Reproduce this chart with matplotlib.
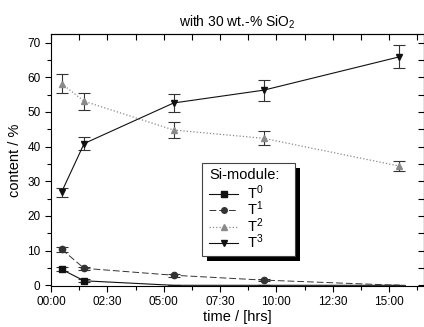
import numpy as np
import matplotlib.pyplot as plt
from matplotlib.ticker import MultipleLocator, FuncFormatter, NullFormatter
from matplotlib.patches import Rectangle
from matplotlib.lines import Line2D

plt.rcParams['font.family'] = ['Liberation Sans', 'DejaVu Sans']
plt.rcParams['mathtext.fontset'] = 'custom'
plt.rcParams['mathtext.rm'] = 'Liberation Sans'
plt.rcParams['mathtext.it'] = 'Liberation Sans'
plt.rcParams['mathtext.default'] = 'regular'

# time in hours
t = [0.47, 1.47, 5.44, 9.44, 15.45]

t0 = [4.6, 1.3, 0.0, 0.0, 0.0]
t0_err = [0.6, 0.4, 0.0, 0.0, 0.0]
t1 = [10.4, 4.9, 2.9, 1.5, 0.0]
t1_err = [0.7, 0.5, 0.4, 0.3, 0.0]
t2 = [58.2, 53.1, 44.8, 42.4, 34.4]
t2_err = [2.7, 2.5, 2.2, 2.0, 1.5]
t3 = [26.9, 40.9, 52.6, 56.3, 65.9]
t3_err = [1.3, 2.0, 2.7, 3.0, 3.3]

labels = ['T$^0$', 'T$^1$', 'T$^2$', 'T$^3$']
series = [t0, t1, t2, t3]
errors = [t0_err, t1_err, t2_err, t3_err]
markers = ['s', 'o', '^', 'v']
colors = ['#111111', '#333333', '#8a8a8a', '#111111']
styles = ['-', (0, (7, 3)), ':', '-']
widths = [0.8, 0.7, 0.9, 0.8]

W, H = 424, 327
fig = plt.figure(figsize=(W / 100, H / 100), dpi=100)
ax = fig.add_axes([51 / W, 1 - 286 / H, 373 / W, 252 / H])

handles = []
for y, e, m, c, ls, lw, lab in zip(series, errors, markers, colors, styles, widths, labels):
    # points sitting at zero are drawn without a marker (line only)
    shown = [i for i, v in enumerate(y) if v > 0]
    ax.errorbar(t, y, yerr=e, color=c, marker=m, linestyle=ls, linewidth=lw,
                ecolor='#333333', capsize=4, elinewidth=0.8, capthick=0.8,
                markersize=4.5, markevery=shown, zorder=3)
    handles.append(Line2D([], [], color=c, marker=m, linestyle=ls, linewidth=lw,
                          markersize=4, label=lab))

ax.set_xlim(0, 16.55)
ax.set_ylim(-0.2, 72.5)

ax.xaxis.set_major_locator(MultipleLocator(2.5))
ax.xaxis.set_minor_locator(MultipleLocator(1.25))
ax.yaxis.set_major_locator(MultipleLocator(10))
ax.yaxis.set_minor_locator(MultipleLocator(5))

def hhmm(v, pos):
    h = int(v)
    m = int(round((v - h) * 60))
    return f"{h:02d}:{m:02d}"

ax.xaxis.set_major_formatter(FuncFormatter(hhmm))
ax.tick_params(axis='both', which='both', labelsize=8.5, width=0.8, direction='out')
ax.tick_params(which='major', length=4)
ax.tick_params(which='minor', length=3)

# inward ticks on top and right
top = ax.secondary_xaxis('top')
top.xaxis.set_major_locator(MultipleLocator(1.25))
top.xaxis.set_major_formatter(NullFormatter())
top.tick_params(direction='in', length=4, width=0.8)
right = ax.secondary_yaxis('right')
right.yaxis.set_major_locator(MultipleLocator(5))
right.yaxis.set_major_formatter(NullFormatter())
right.tick_params(direction='in', length=4, width=0.8)

for s in ax.spines.values():
    s.set_linewidth(0.8)

ax.set_xlabel('time / [hrs]', fontsize=10.5, labelpad=1)
ax.set_ylabel('content / %', fontsize=10.5, labelpad=4)
ax.set_title('with 30 wt.-% SiO$_2$', fontsize=10, pad=5)

# legend box with a solid drop shadow
fx, fy, fw, fh = 202, 163, 93, 93
ax.add_patch(Rectangle(((fx + 5) / W, 1 - (fy + fh + 5) / H), fw / W, fh / H,
                       transform=fig.transFigure, facecolor='black', edgecolor='none',
                       clip_on=False, zorder=4))
ax.add_patch(Rectangle((fx / W, 1 - (fy + fh) / H), fw / W, fh / H,
                       transform=fig.transFigure, facecolor='white', edgecolor='#444444',
                       linewidth=0.8, clip_on=False, zorder=5))
ax.text(209 / W, 1 - 175 / H, 'Si-module:', transform=fig.transFigure, fontsize=10.5,
        va='center', ha='left', zorder=6)

leg = ax.legend(handles=handles, loc='upper left',
                bbox_to_anchor=(202 / W, 1 - 176 / H), bbox_transform=fig.transFigure,
                fontsize=10.5, frameon=False,
                handlelength=2.0, borderpad=0, labelspacing=-0.15,
                handletextpad=0.6)
leg.set_zorder(6)

fig.savefig('out.png', dpi=100)
